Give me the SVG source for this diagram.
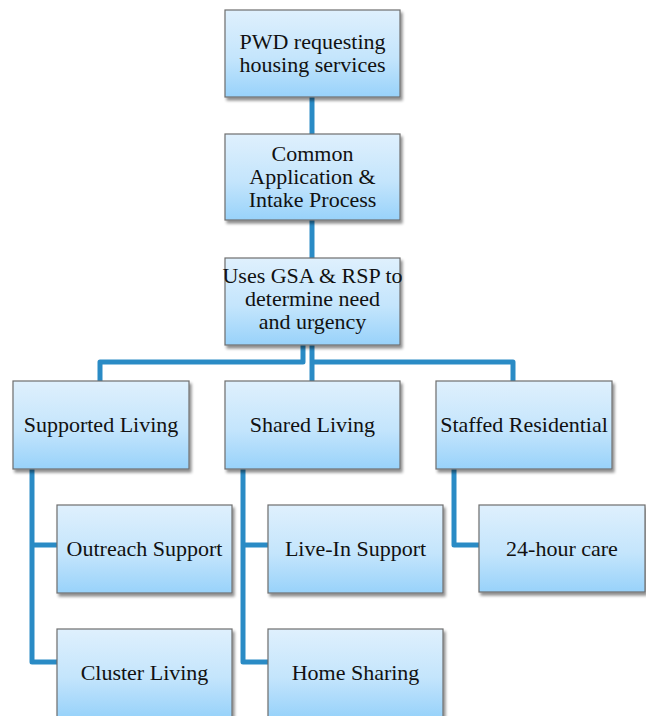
<svg xmlns="http://www.w3.org/2000/svg" width="646" height="716" viewBox="0 0 646 716">
  <defs>
    <linearGradient id="boxFill" x1="0" y1="0" x2="0" y2="1">
      <stop offset="0" stop-color="#dff0fd"/>
      <stop offset="0.55" stop-color="#c4e5fc"/>
      <stop offset="1" stop-color="#98d2fa"/>
    </linearGradient>
    <filter id="shadow" x="-10%" y="-10%" width="125%" height="130%">
      <feGaussianBlur in="SourceAlpha" stdDeviation="1.8"/>
      <feOffset dx="2" dy="3" result="off"/>
      <feComponentTransfer><feFuncA type="linear" slope="0.45"/></feComponentTransfer>
      <feMerge><feMergeNode/><feMergeNode in="SourceGraphic"/></feMerge>
    </filter>
  </defs>
  <style>
    .box { fill: url(#boxFill); stroke: #6e6e6e; stroke-width: 1.2; filter: url(#shadow); }
    .lbl { font-family: "Liberation Serif", "DejaVu Serif", serif; font-size: 22px; fill: #111; text-anchor: middle; }
    .conn { fill: none; stroke: #2a8bc5; stroke-width: 5; stroke-linejoin: round; }
  </style>

  <rect width="646" height="716" fill="#ffffff"/>

  <!-- connectors -->
  <g id="connectors">
    <path class="conn" d="M312 97 V134"/>
    <path class="conn" d="M312 220 V258"/>
    <path class="conn" d="M303 345 V362 H100 V381"/>
    <path class="conn" d="M312 345 V381"/>
    <path class="conn" d="M312 362 H513 V381"/>
    <path class="conn" d="M32 469 V662 H57 M32 545 H57"/>
    <path class="conn" d="M243 469 V662 H268 M243 545 H268"/>
    <path class="conn" d="M454 469 V545 H479"/>
  </g>

  <g id="pwd">
    <rect class="box" x="225" y="10" width="175" height="87"/>
    <text class="lbl" x="312.5" y="49">PWD requesting</text>
    <text class="lbl" x="312.5" y="72">housing services</text>
  </g>
  <g id="intake">
    <rect class="box" x="225" y="134" width="175" height="86"/>
    <text class="lbl" x="312.5" y="161">Common</text>
    <text class="lbl" x="312.5" y="184">Application &amp;</text>
    <text class="lbl" x="312.5" y="207">Intake Process</text>
  </g>
  <g id="assess">
    <rect class="box" x="225" y="258" width="175" height="87"/>
    <text class="lbl" x="312.5" y="283">Uses GSA &amp; RSP to</text>
    <text class="lbl" x="312.5" y="306">determine need</text>
    <text class="lbl" x="312.5" y="329">and urgency</text>
  </g>
  <g id="supported-living">
    <rect class="box" x="13" y="381" width="176" height="88"/>
    <text class="lbl" x="101" y="432">Supported Living</text>
  </g>
  <g id="shared-living">
    <rect class="box" x="225" y="381" width="175" height="88"/>
    <text class="lbl" x="312.5" y="432">Shared Living</text>
  </g>
  <g id="staffed-residential">
    <rect class="box" x="436" y="381" width="176" height="88"/>
    <text class="lbl" x="524" y="432">Staffed Residential</text>
  </g>
  <g id="outreach-support">
    <rect class="box" x="57" y="505" width="175" height="88"/>
    <text class="lbl" x="144.5" y="556">Outreach Support</text>
  </g>
  <g id="cluster-living">
    <rect class="box" x="57" y="629" width="175" height="88"/>
    <text class="lbl" x="144.5" y="680">Cluster Living</text>
  </g>
  <g id="live-in-support">
    <rect class="box" x="268" y="505" width="175" height="88"/>
    <text class="lbl" x="355.5" y="556">Live-In Support</text>
  </g>
  <g id="home-sharing">
    <rect class="box" x="268" y="629" width="175" height="88"/>
    <text class="lbl" x="355.5" y="680">Home Sharing</text>
  </g>
  <g id="care-24h">
    <rect class="box" x="479" y="505" width="166" height="87"/>
    <text class="lbl" x="562" y="556">24-hour care</text>
  </g>
</svg>
